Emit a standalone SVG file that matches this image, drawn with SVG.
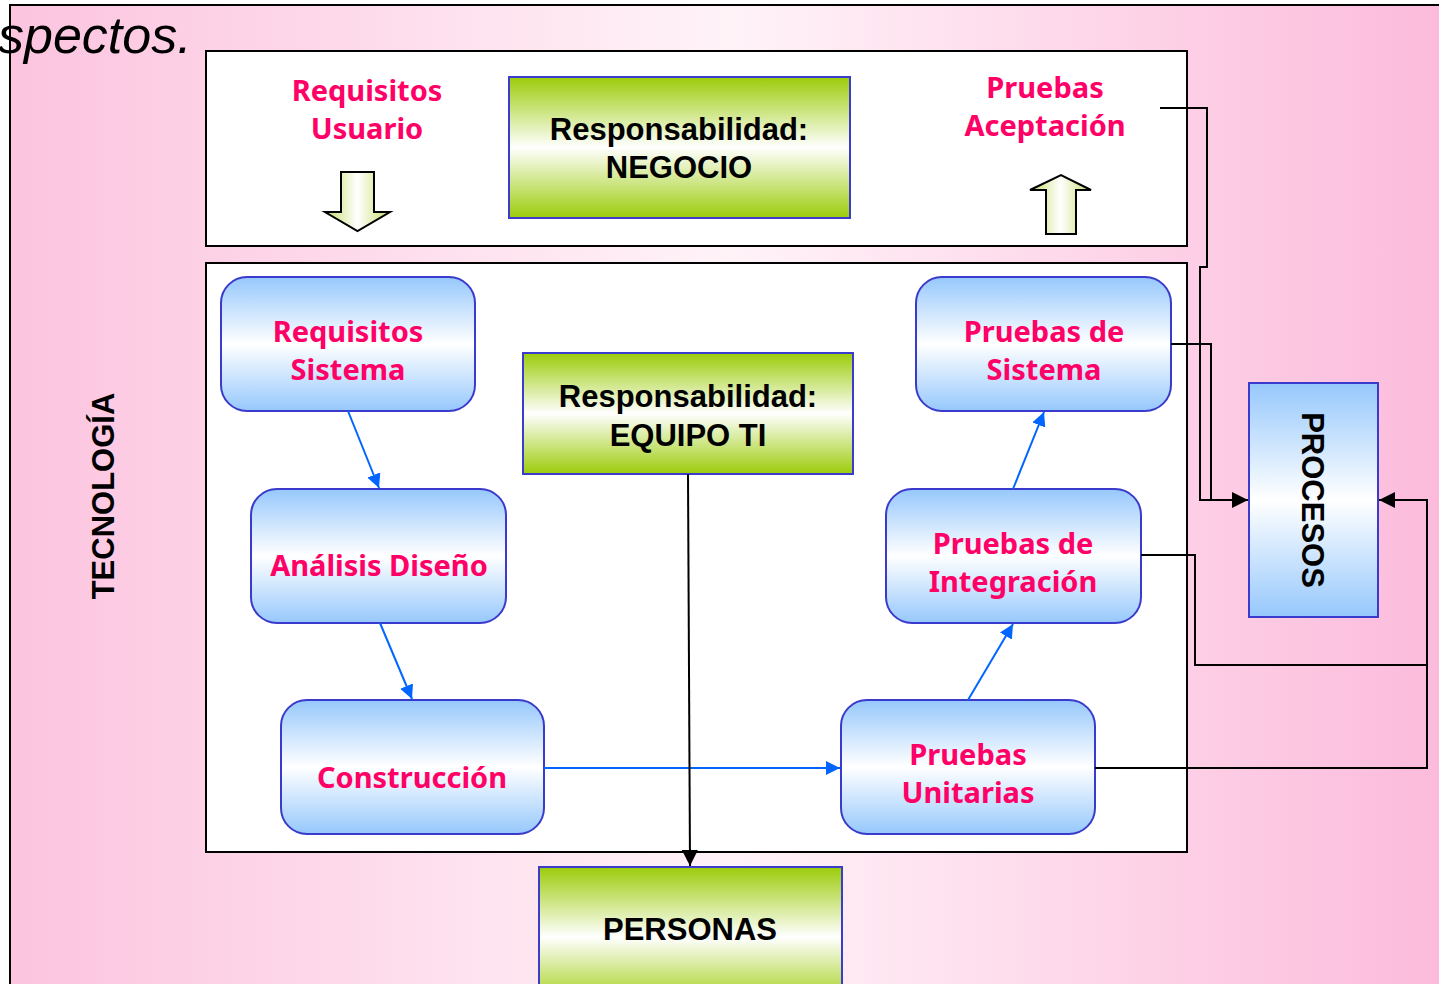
<svg xmlns="http://www.w3.org/2000/svg" width="1439" height="984" viewBox="0 0 1439 984">
<defs>
<linearGradient id="bg" x1="0" y1="0" x2="1" y2="0">
<stop offset="0" stop-color="#fcc4df"/>
<stop offset="0.5" stop-color="#fff3f8"/>
<stop offset="1" stop-color="#fcbadb"/>
</linearGradient>
<linearGradient id="green" x1="0" y1="0" x2="0" y2="1">
<stop offset="0" stop-color="#9ccc0a"/>
<stop offset="0.5" stop-color="#ffffff"/>
<stop offset="1" stop-color="#9ccc0a"/>
</linearGradient>
<linearGradient id="blue" x1="0" y1="0" x2="0" y2="1">
<stop offset="0" stop-color="#96c8fc"/>
<stop offset="0.5" stop-color="#ffffff"/>
<stop offset="1" stop-color="#96c8fc"/>
</linearGradient>
<linearGradient id="arrowfill" x1="0" y1="0" x2="1" y2="0">
<stop offset="0" stop-color="#c4dc6a"/>
<stop offset="0.5" stop-color="#ffffff"/>
<stop offset="1" stop-color="#c4dc6a"/>
</linearGradient>
<marker id="ab" markerUnits="userSpaceOnUse" markerWidth="16" markerHeight="14" refX="14" refY="7" orient="auto">
<path d="M0,0 L14,7 L0,14 Z" fill="#0066ff"/>
</marker>
<marker id="ak" markerUnits="userSpaceOnUse" markerWidth="18" markerHeight="16" refX="16" refY="8" orient="auto">
<path d="M0,0 L16,8 L0,16 Z" fill="#000"/>
</marker>
<style>
.pk{font-family:"Noto Sans","DejaVu Sans",sans-serif;font-weight:bold;font-size:29px;fill:#ff0066;text-anchor:middle}
.bk{font-family:"Liberation Sans",Arial,sans-serif;font-weight:bold;font-size:31px;fill:#000;text-anchor:middle}
.gbox{fill:url(#green);stroke:#3c3ccc;stroke-width:2}
.bbox{fill:url(#blue);stroke:#3a3acc;stroke-width:2}
.frame{fill:#fff;stroke:#000;stroke-width:2}
.bl{stroke:#0066ff;stroke-width:2;fill:none}
.kl{stroke:#000;stroke-width:2;fill:none}
</style>
</defs>
<rect x="0" y="0" width="1439" height="984" fill="#fff"/>
<rect x="10" y="5" width="1440" height="990" fill="url(#bg)" stroke="#000" stroke-width="2"/>
<text x="-2" y="53" font-family="Liberation Sans, Arial, sans-serif" font-style="italic" font-size="52" fill="#000">spectos.</text>

<g id="negocio-frame">
<rect class="frame" x="206" y="51" width="981" height="195"/>
</g>
<g id="equipo-frame">
<rect class="frame" x="206" y="263" width="981" height="589"/>
</g>

<g id="requisitos-usuario">
<text class="pk" x="367" y="101">Requisitos</text>
<text class="pk" x="367" y="139">Usuario</text>
<path d="M341,172 H374 V212 H390 L357.5,231 L325,212 H341 Z" fill="url(#arrowfill)" stroke="#000" stroke-width="2"/>
</g>
<g id="pruebas-aceptacion">
<text class="pk" x="1045" y="98">Pruebas</text>
<text class="pk" x="1045" y="136">Aceptación</text>
<path d="M1046,234 H1076 V190 H1091 L1061,175 L1030,190 H1046 Z" fill="url(#arrowfill)" stroke="#000" stroke-width="2"/>
</g>

<g id="resp-negocio">
<rect class="gbox" x="509" y="77" width="341" height="141"/>
<text class="bk" x="679" y="140">Responsabilidad:</text>
<text class="bk" x="679" y="178">NEGOCIO</text>
</g>
<g id="resp-equipo">
<rect class="gbox" x="523" y="353" width="330" height="121"/>
<text class="bk" x="688" y="407">Responsabilidad:</text>
<text class="bk" x="688" y="446">EQUIPO TI</text>
</g>
<g id="personas">
<rect class="gbox" x="539" y="867" width="303" height="140"/>
<text class="bk" x="690" y="940">PERSONAS</text>
</g>

<g id="requisitos-sistema">
<rect class="bbox" x="221" y="277" width="254" height="134" rx="26"/>
<text class="pk" x="348" y="342">Requisitos</text>
<text class="pk" x="348" y="380">Sistema</text>
</g>
<g id="analisis-diseno">
<rect class="bbox" x="251" y="489" width="255" height="134" rx="26"/>
<text class="pk" x="379" y="576">Análisis Diseño</text>
</g>
<g id="construccion">
<rect class="bbox" x="281" y="700" width="263" height="134" rx="26"/>
<text class="pk" x="412" y="788">Construcción</text>
</g>
<g id="pruebas-sistema">
<rect class="bbox" x="916" y="277" width="255" height="134" rx="26"/>
<text class="pk" x="1044" y="342">Pruebas de</text>
<text class="pk" x="1044" y="380">Sistema</text>
</g>
<g id="pruebas-integracion">
<rect class="bbox" x="886" y="489" width="255" height="134" rx="26"/>
<text class="pk" x="1013" y="554">Pruebas de</text>
<text class="pk" x="1013" y="592">Integración</text>
</g>
<g id="pruebas-unitarias">
<rect class="bbox" x="841" y="700" width="254" height="134" rx="26"/>
<text class="pk" x="968" y="765">Pruebas</text>
<text class="pk" x="968" y="803">Unitarias</text>
</g>

<g id="procesos">
<rect class="bbox" x="1249" y="383" width="129" height="234"/>
<text class="bk" transform="translate(1302,500) rotate(90)" x="0" y="0">PROCESOS</text>
</g>
<g id="tecnologia">
<text class="bk" transform="translate(114,496) rotate(-90)" x="0" y="0">TECNOLOGÍA</text>
</g>

<g id="connectors">
<line class="bl" x1="348" y1="411" x2="379" y2="488" marker-end="url(#ab)"/>
<line class="bl" x1="380" y1="623" x2="412" y2="699" marker-end="url(#ab)"/>
<line class="bl" x1="544" y1="768" x2="840" y2="768" marker-end="url(#ab)"/>
<line class="bl" x1="968" y1="700" x2="1013" y2="624" marker-end="url(#ab)"/>
<line class="bl" x1="1013" y1="489" x2="1044" y2="412" marker-end="url(#ab)"/>
<line class="kl" x1="688" y1="474" x2="690" y2="866" marker-end="url(#ak)"/>
<polyline class="kl" points="1160,108 1207,108 1207,267 1200,267 1200,500 1248,500" marker-end="url(#ak)"/>
<polyline class="kl" points="1171,344 1211,344 1211,500"/>
<polyline class="kl" points="1141,555 1195,555 1195,665 1427,665"/>
<polyline class="kl" points="1095,768 1427,768 1427,500 1379,500" marker-end="url(#ak)"/>
</g>
</svg>
